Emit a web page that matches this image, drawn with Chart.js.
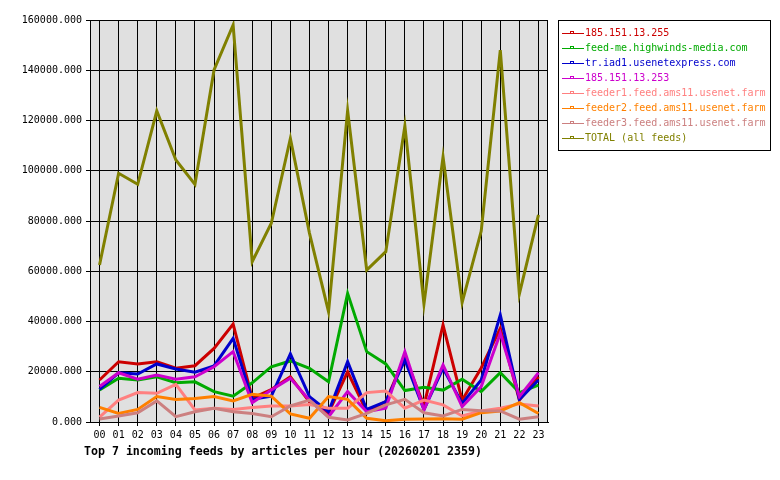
<!DOCTYPE html>
<html>
<head>
<meta charset="utf-8">
<script src="https://cdn.jsdelivr.net/npm/chart.js@4"></script>
<style>
  html, body { margin: 0; padding: 0; background: #fff; }
  #wrap { width: 780px; height: 480px; }
</style>
</head>
<body>
<div id="wrap"><canvas id="feedsChart" width="780" height="480"></canvas></div>
<script>
// horas del dia
const hours = ['00','01','02','03','04','05','06','07','08','09','10','11',
               '12','13','14','15','16','17','18','19','20','21','22','23'];

const feedNames = ['185.151.13.255', 'feed-me.highwinds-media.com', 'tr.iad1.usenetexpress.com',
                   '185.151.13.253', 'feeder1.feed.ams11.usenet.farm', 'feeder2.feed.ams11.usenet.farm',
                   'feeder3.feed.ams11.usenet.farm', 'TOTAL (all feeds)'];
const feedColors = ['#cc0000', '#00aa00', '#0000cc', '#cc00cc', '#ff8080', '#ff8000', '#cc8080', '#808000'];

const feed255 = [16700, 24000, 23100, 24000, 21400, 22400, 29300, 39000, 9500, 12900, 18000, 8000,
                 3600, 20000, 4100, 8100, 26000, 6500, 38600, 8700, 21500, 37300, 8700, 18000];
const feedHighwinds = [12700, 17400, 16700, 18000, 15600, 16000, 12100, 10300, 15600, 22000, 24300, 21400,
                       16000, 51200, 28000, 23100, 12500, 13800, 12700, 17000, 12100, 19600, 11700, 14700];
const feedUsenetExpress = [13000, 19600, 19100, 23100, 21100, 19800, 22300, 33300, 9000, 10300, 27100, 10100,
                           4100, 24000, 5000, 8100, 24700, 4900, 21400, 7400, 16700, 42600, 9000, 16700];
const feed253 = [14100, 19600, 17000, 18700, 17000, 18000, 22000, 28000, 7700, 12700, 17400, 8700,
                 2100, 12100, 4100, 5500, 28000, 4800, 22700, 6100, 14100, 35300, 10100, 19600];
const feeder1 = [1900, 8700, 11700, 11400, 15000, 4800, 5500, 5000, 5800, 6400, 6400, 7000,
                 5500, 5500, 11700, 12300, 5500, 8700, 6800, 2400, 4400, 5500, 7200, 6400];
const feeder2 = [5800, 3400, 5000, 10100, 9000, 9400, 10100, 8400, 11000, 10300, 3200, 1500,
                 10100, 9000, 1500, 500, 1100, 1200, 1300, 1100, 3700, 4400, 7700, 3400];
const feeder3 = [1200, 2400, 3700, 8400, 2100, 4100, 5500, 4100, 3400, 2100, 6400, 8700,
                 1900, 800, 3400, 6800, 9000, 3700, 2400, 5000, 4500, 4400, 1100, 2100];
const totalFeeds = [62500, 99000, 94600, 123800, 104300, 94600, 140100, 158000, 63800, 79100, 112900, 75200,
                    43900, 124000, 60500, 67800, 117800, 47000, 105500, 47500, 76000, 148000, 51000, 82400];

const yTicks = [0, 20000, 40000, 60000, 80000, 100000, 120000, 140000, 160000];
const chartTitle = 'Top 7 incoming feeds by articles per hour (20260201 2359)';

const seriesData = [feed255, feedHighwinds, feedUsenetExpress, feed253, feeder1, feeder2, feeder3, totalFeeds];
const mono = '"DejaVu Sans Mono", "Liberation Mono", monospace';

// fondo, marco, leyenda y titulo
const decoPlugin = {
    id: 'deco',
    beforeDraw(chart) {
        const c = chart.ctx, a = chart.chartArea;
        c.save();
        c.fillStyle = '#ffffff';
        c.fillRect(0, 0, chart.width, chart.height);
        c.fillStyle = '#e0e0e0';
        c.fillRect(a.left, a.top, a.right - a.left, a.bottom - a.top);
        c.restore();
    },
    afterDraw(chart) {
        const c = chart.ctx, a = chart.chartArea;
        c.save();
        c.strokeStyle = '#000';
        c.lineWidth = 1;
        c.strokeRect(a.left + 0.5, a.top + 0.5, a.right - a.left - 1, a.bottom - a.top);

        // leyenda
        c.fillStyle = '#fff';
        c.fillRect(558, 20, 212, 130);
        c.strokeRect(558.5, 20.5, 212, 130);
        c.font = '10px ' + mono;
        c.textBaseline = 'middle';
        chart.data.datasets.forEach((ds, i) => {
            const y = 33.5 + i * 15;
            c.strokeStyle = ds.borderColor;
            c.beginPath();
            c.moveTo(562, y);
            c.lineTo(584, y);
            c.stroke();
            c.strokeRect(570.5, y - 2, 3, 2);
            c.fillStyle = ds.borderColor;
            c.fillText(ds.label, 585, y);
        });

        // titulo
        c.fillStyle = '#000';
        c.font = 'bold 11.6px ' + mono;
        c.textBaseline = 'middle';
        c.fillText(chartTitle, 84, 452);
        c.restore();
    }
};

const ctx = document.getElementById('feedsChart').getContext('2d');
const feedsChart = new Chart(ctx, {
    type: 'line',
    data: {
        labels: hours,
        datasets: seriesData.map((serie, i) => ({
            label: feedNames[i],
            data: serie,
            borderColor: feedColors[i],
            backgroundColor: feedColors[i],
            borderWidth: 3,
            pointRadius: 0,
            tension: 0,
            fill: false,
            order: -i
        }))
    },
    options: {
        responsive: false,
        animation: false,
        layout: { padding: { left: 0, top: 20, right: 232, bottom: 0 } },
        plugins: {
            legend: { display: false },
            tooltip: { enabled: false }
        },
        scales: {
            x: {
                offset: true,
                grid: { color: '#000', offset: false, tickLength: 4, tickColor: '#000' },
                border: { color: '#000' },
                ticks: { color: '#000', font: { family: mono, size: 10 }, padding: 3, maxRotation: 0, autoSkip: false },
                afterFit(scale) { scale.height = 58; }
            },
            y: {
                min: 0,
                max: 160000,
                afterBuildTicks(scale) { scale.ticks = yTicks.map(v => ({ value: v })); },
                grid: { color: '#000', tickLength: 4, tickColor: '#000' },
                border: { color: '#000' },
                ticks: {
                    color: '#000',
                    font: { family: mono, size: 10 },
                    padding: 4,
                    callback: v => Number(v).toFixed(3)
                },
                afterFit(scale) { scale.width = 90; }
            }
        }
    },
    plugins: [decoPlugin]
});
</script>
</body>
</html>
